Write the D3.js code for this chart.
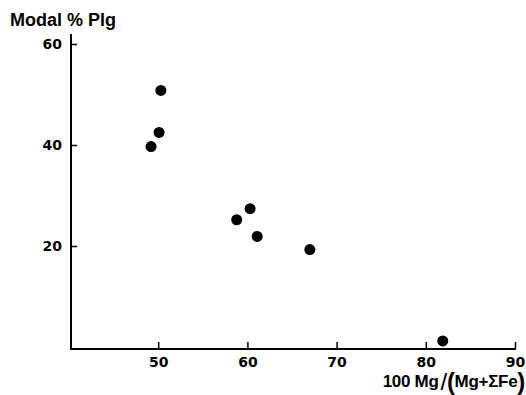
<!DOCTYPE html>
<html><head><meta charset="utf-8">
<script src="https://cdn.jsdelivr.net/npm/d3@7/dist/d3.min.js"></script>
<style>
body{margin:0;background:#fff;}
svg{display:block;}
.tick text{font-family:"DejaVu Sans",sans-serif;font-weight:bold;font-size:14px;fill:#000;}
</style></head><body>
<svg id="chart" width="526" height="395"></svg>
<script>
const mgNumber = [50.3, 50.1, 49.2, 60.3, 58.8, 61.1, 67.0, 81.9];
const modalPlg = [50.8, 42.5, 39.7, 27.4, 25.2, 21.9, 19.3, 1.2];
const xTicks = [50, 60, 70, 80, 90];
const yTicks = [20, 40, 60];

const svg = d3.select("#chart");
const x = d3.scaleLinear().domain([40, 90]).range([69, 515]);
const y = d3.scaleLinear().domain([0, 60]).range([347, 44]);
const axisX = 71, axisY = 349;

// axes lines
svg.append("line").attr("x1", axisX).attr("x2", axisX).attr("y1", axisY+1).attr("y2", 34)
  .attr("stroke", "#000").attr("stroke-width", 2);
svg.append("line").attr("x1", axisX-1).attr("x2", x(90)+1).attr("y1", axisY).attr("y2", axisY)
  .attr("stroke", "#000").attr("stroke-width", 2);

const gx = svg.append("g").attr("transform", `translate(0,${axisY})`)
  .call(d3.axisBottom(x).tickValues(xTicks).tickSize(-7).tickPadding(8).tickFormat(d3.format("d")));
gx.select(".domain").remove();
gx.selectAll(".tick line").attr("stroke", "#000").attr("stroke-width", 1.5);

const gy = svg.append("g").attr("transform", `translate(${axisX},0)`)
  .call(d3.axisLeft(y).tickValues(yTicks).tickSize(-6).tickPadding(9).tickFormat(d3.format("d")));
gy.select(".domain").remove();
gy.selectAll(".tick line").attr("stroke", "#000").attr("stroke-width", 1.5);

// points
svg.append("g").selectAll("circle").data(mgNumber).join("circle")
  .attr("cx", (d) => x(d)).attr("cy", (d, i) => y(modalPlg[i])).attr("r", 5.5).attr("fill", "#000");

// titles
svg.append("text").attr("x", 10).attr("y", 26)
  .style("font-family", "'Liberation Sans',Arial,sans-serif").style("font-weight", "bold")
  .style("font-size", "18px").style("letter-spacing", "0px").text("Modal % Plg");

const xl = svg.append("text").attr("x", 525).attr("y", 387).attr("text-anchor", "end")
  .style("font-family", "'Liberation Sans',Arial,sans-serif").style("font-weight", "bold")
  .style("font-size", "17px").style("letter-spacing", "-0.3px");
xl.append("tspan").text("100 Mg");
xl.append("tspan").style("font-size", "24px").style("font-weight", "normal").attr("dx", 2).attr("dy", 3).text("/");
xl.append("tspan").style("font-size", "24px").text("(");
xl.append("tspan").attr("dy", -3).text("Mg+ΣFe");
xl.append("tspan").style("font-size", "24px").attr("dy", 3).text(")");
</script>
</body></html>
